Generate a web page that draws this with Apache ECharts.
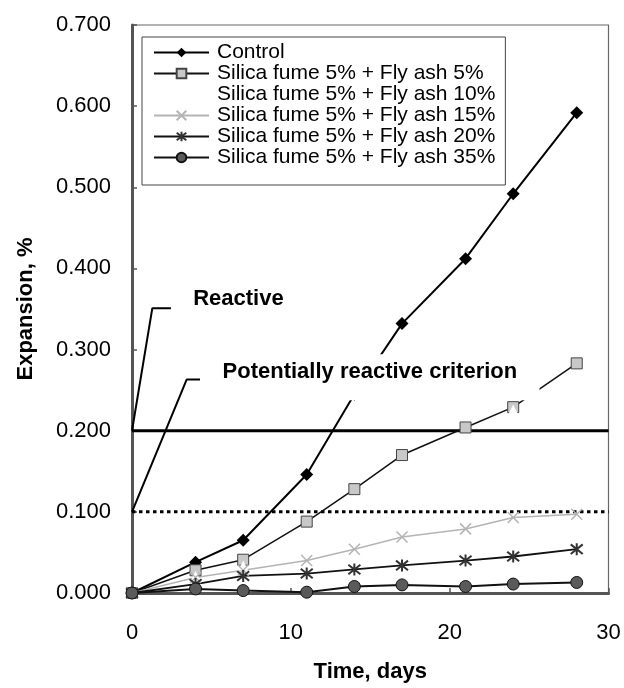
<!DOCTYPE html>
<html><head><meta charset="utf-8">
<script src="https://cdn.jsdelivr.net/npm/echarts@6/dist/echarts.min.js"></script>
<style>html,body{margin:0;padding:0;background:#fff}#c{width:624px;height:688px}</style>
</head><body><div id="c"></div>
<script>
// ---- data ----
const days = [0, 4, 7, 11, 14, 17, 21, 24, 28];
const control = [0, 0.038, 0.065, 0.146, 0.245, 0.332, 0.412, 0.492, 0.592];
const sf5fa5 = [0, 0.028, 0.041, 0.088, 0.128, 0.170, 0.204, 0.229, 0.283];
const fa10Days = [0, 4, 7, 24];
const sf5fa10 = [0, 0.021, 0.034, 0.226];
const sf5fa15 = [0, 0.019, 0.028, 0.040, 0.054, 0.069, 0.079, 0.093, 0.097];
const sf5fa20 = [0, 0.011, 0.021, 0.024, 0.029, 0.034, 0.040, 0.045, 0.054];
const sf5fa35 = [0, 0.005, 0.003, 0.001, 0.008, 0.010, 0.008, 0.011, 0.013];
const seriesNames = ['Control', 'Silica fume 5% + Fly ash 5%', 'Silica fume 5% + Fly ash 10%',
  'Silica fume 5% + Fly ash 15%', 'Silica fume 5% + Fly ash 20%', 'Silica fume 5% + Fly ash 35%'];
const reactiveLimit = 0.2;
const potentialLimit = 0.1;
const xRange = [0, 30];
const reactiveLeader = [[0, 0.2], [1.28, 0.351], [2.45, 0.351]];
const potentialLeader = [[0, 0.1], [3.44, 0.263], [4.28, 0.263]];
const annotationReactive = {text: 'Reactive', at: [3.85, 0.362]};
const annotationPotential = {text: 'Potentially reactive criterion', at: [5.7, 0.272]};

const FONT = "'Liberation Sans', Arial, sans-serif";
const pair = (xs, ys) => xs.map((x, i) => [x, ys[i]]);
const starPath = 'path://M1,1L9,9M9,1L1,9M5,0L5,10';
const xPath = 'path://M1,1L9,9M9,1L1,9';

const chart = echarts.init(document.getElementById('c'));
const option = {
  animation: false,
  backgroundColor: '#fff',
  grid: {left: 132, right: 15.5, top: 25, bottom: 92, show: true, borderColor: '#666', borderWidth: 1.2},
  legend: {
    data: seriesNames, orient: 'vertical', left: 142, top: 37,
    itemWidth: 55, itemHeight: 12, itemGap: 0, selectedMode: false,
    backgroundColor: '#fff', borderColor: '#444', borderWidth: 1,
    padding: [5, 10, 17, 11],
    textStyle: {fontFamily: FONT, fontSize: 21, lineHeight: 18.7, color: '#000', padding: [0, 0, 0, 3]}
  },
  xAxis: {
    type: 'value', min: xRange[0], max: xRange[1], interval: 10,
    name: 'Time, days', nameLocation: 'middle', nameGap: 68,
    nameTextStyle: {fontFamily: FONT, fontSize: 22, fontWeight: 'bold', color: '#000'},
    axisLine: {lineStyle: {color: '#555', width: 3}},
    axisTick: {inside: true, length: 5, lineStyle: {color: '#555', width: 1.5}},
    axisLabel: {fontFamily: FONT, fontSize: 22, color: '#000', margin: 29},
    splitLine: {show: false}
  },
  yAxis: {
    type: 'value', min: 0, max: 0.7, interval: 0.1,
    name: 'Expansion, %', nameLocation: 'middle', nameGap: 95,
    nameTextStyle: {fontFamily: FONT, fontSize: 22, fontWeight: 'bold', color: '#000'},
    axisLine: {lineStyle: {color: '#555', width: 3}},
    axisTick: {inside: true, length: 5, lineStyle: {color: '#555', width: 1.5}},
    axisLabel: {fontFamily: FONT, fontSize: 22, color: '#000', margin: 21, formatter: v => v.toFixed(3)},
    splitLine: {show: false}
  },
  series: [
    {name: 'reactive', type: 'line', data: [[xRange[0], reactiveLimit], [xRange[1], reactiveLimit]],
     symbol: 'none', lineStyle: {color: '#000', width: 3}, z: 1, silent: true},
    {name: 'potential', type: 'line', data: [[xRange[0], potentialLimit], [xRange[1], potentialLimit]],
     symbol: 'none', lineStyle: {color: '#000', width: 3, type: [3.5, 3.5]}, z: 1, silent: true},
    {name: seriesNames[0], type: 'line', data: pair(days, control), clip: false,
     symbol: 'diamond', symbolSize: 13, itemStyle: {color: '#000'}, lineStyle: {color: '#000', width: 2}},
    {name: seriesNames[1], type: 'line', data: pair(days, sf5fa5), clip: false,
     symbol: 'rect', symbolSize: 11, itemStyle: {color: '#c8c8c8', borderColor: '#444', borderWidth: 1},
     lineStyle: {color: '#111', width: 1.5}},
    {name: seriesNames[2], type: 'line', data: pair(fa10Days, sf5fa10), clip: false,
     symbol: 'triangle', symbolSize: 10, itemStyle: {color: '#fff', borderColor: '#fff', borderWidth: 0},
     lineStyle: {color: '#fff', width: 0, opacity: 0}},
    {name: seriesNames[3], type: 'line', data: pair(days, sf5fa15), clip: false,
     symbol: xPath, symbolSize: 11, itemStyle: {color: 'none', borderColor: '#b4b4b4', borderWidth: 1.5},
     lineStyle: {color: '#b4b4b4', width: 1.5}},
    {name: seriesNames[4], type: 'line', data: pair(days, sf5fa20), clip: false,
     symbol: starPath, symbolSize: 12, itemStyle: {color: 'none', borderColor: '#333', borderWidth: 2},
     lineStyle: {color: '#111', width: 1.8}},
    {name: seriesNames[5], type: 'line', data: pair(days, sf5fa35), clip: false,
     symbol: 'circle', symbolSize: 12, itemStyle: {color: '#5a5a5a', borderColor: '#111', borderWidth: 1},
     lineStyle: {color: '#111', width: 2}},
    {name: 'reactiveLeader', type: 'line', data: reactiveLeader, symbol: 'none', silent: true,
     lineStyle: {color: '#000', width: 2}, z: 3},
    {name: 'potentialLeader', type: 'line', data: potentialLeader, symbol: 'none', silent: true,
     lineStyle: {color: '#000', width: 2}, z: 3}
  ]
};
chart.setOption(option);

const pR = chart.convertToPixel({gridIndex: 0}, annotationReactive.at);
const pP = chart.convertToPixel({gridIndex: 0}, annotationPotential.at);
chart.setOption({
  graphic: [
    {type: 'rect', z: 99, silent: true,
     shape: {x: pP[0] - 8, y: pP[1] - 18, width: 325, height: 46},
     style: {fill: '#fff'}},
    {type: 'text', z: 100, x: pR[0], y: pR[1],
     style: {text: annotationReactive.text, font: "bold 22px " + FONT, fill: '#000', verticalAlign: 'middle', align: 'left'}},
    {type: 'text', z: 100, x: pP[0], y: pP[1],
     style: {text: annotationPotential.text, font: "bold 22px " + FONT, fill: '#000', verticalAlign: 'middle', align: 'left'}}
  ]
});
</script></body></html>
